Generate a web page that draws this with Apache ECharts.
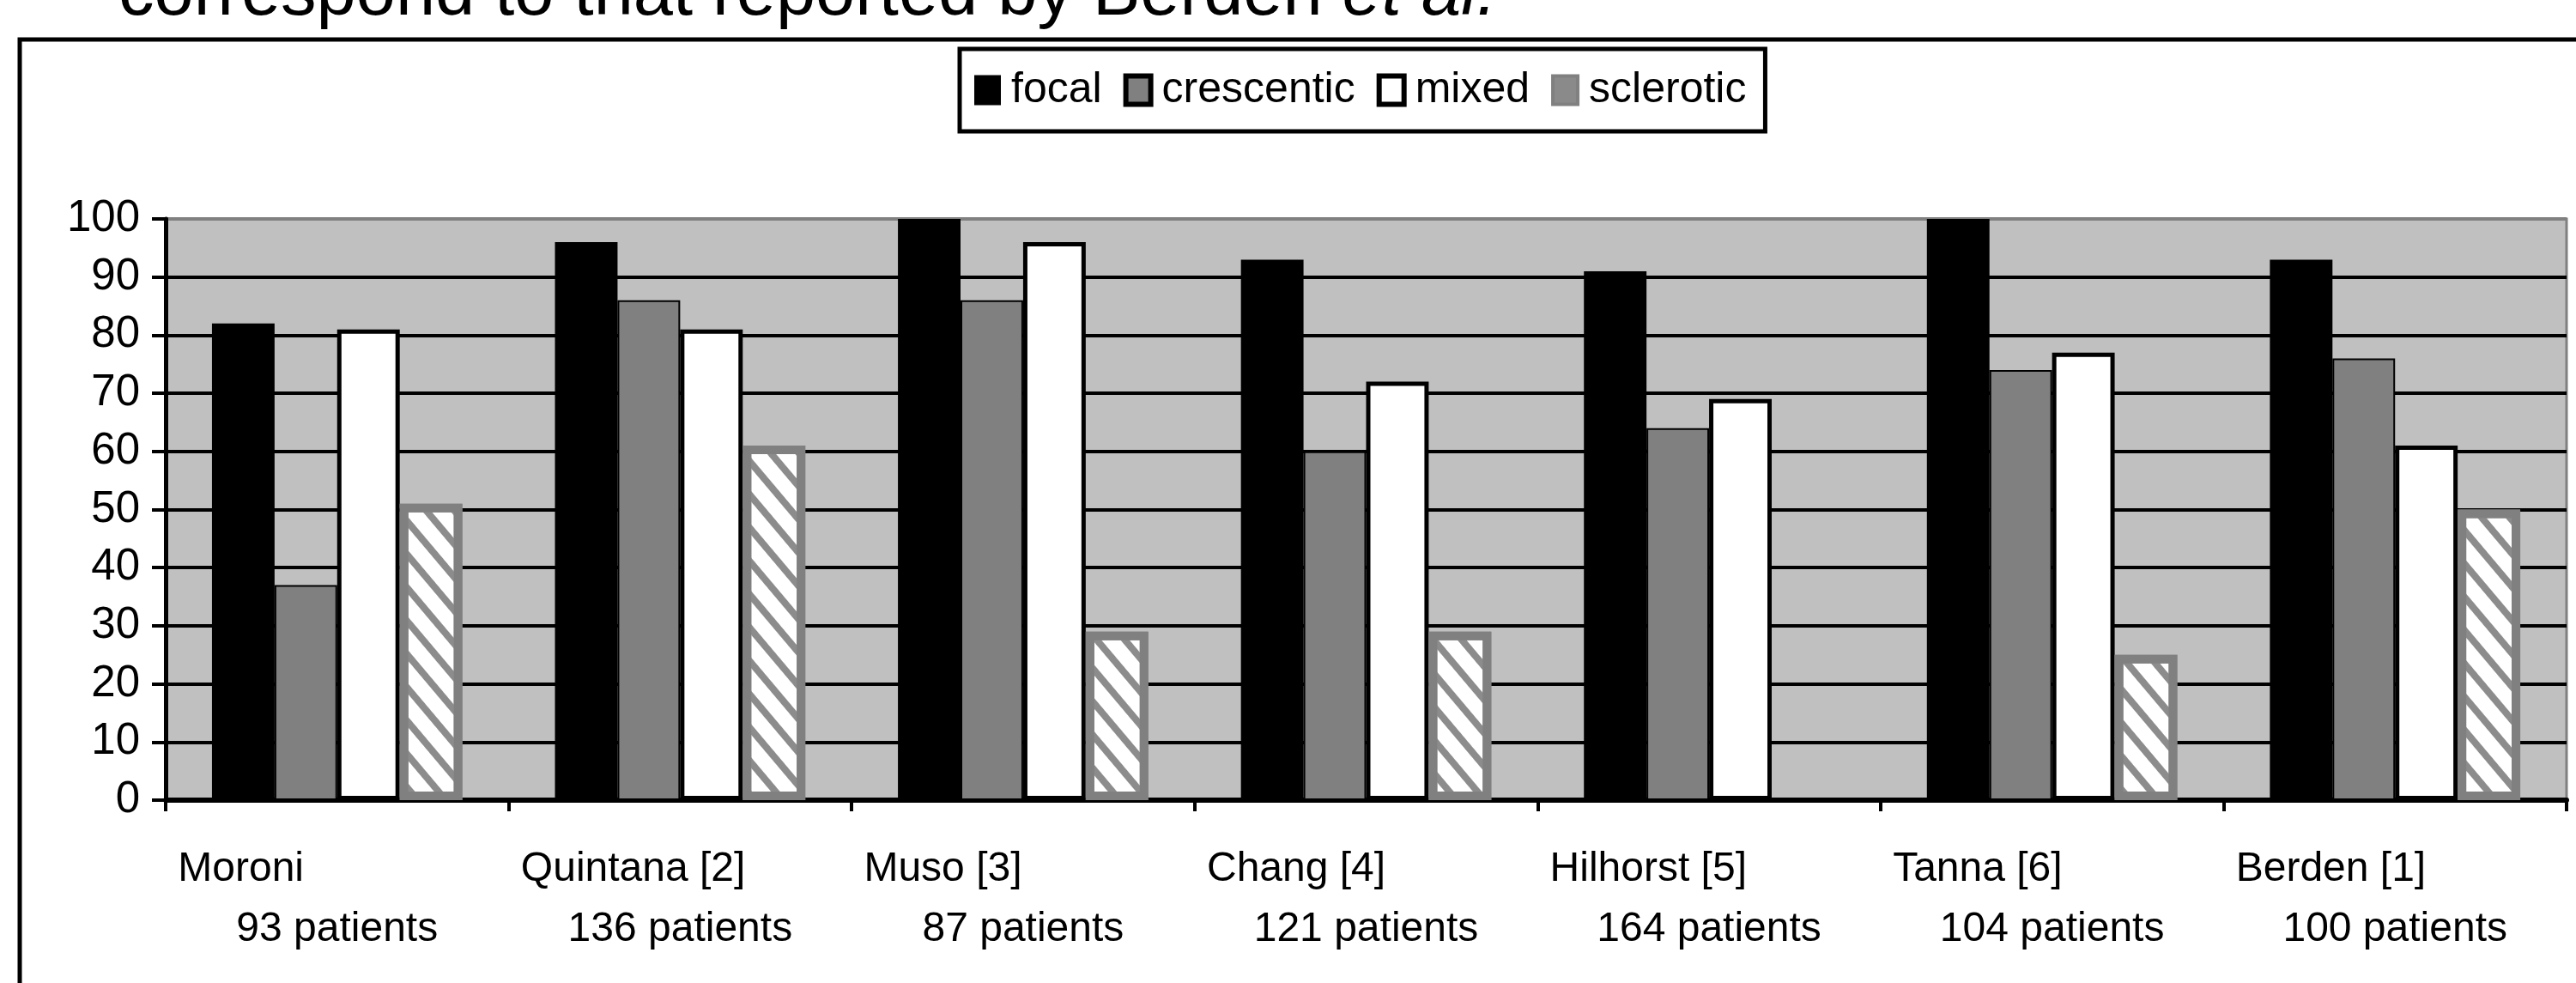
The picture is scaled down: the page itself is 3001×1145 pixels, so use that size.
<!DOCTYPE html>
<html>
<head>
<meta charset="utf-8">
<script src="https://cdn.jsdelivr.net/npm/echarts@6/dist/echarts.min.js"></script>
<style>
  html, body { margin: 0; padding: 0; background: #fff; }
  #chart { width: 3001px; height: 1145px; }
</style>
</head>
<body>
<div id="chart"></div>
<script>
// Studies compared, with cohort sizes
const studies = ['Moroni', 'Quintana [2]', 'Muso [3]', 'Chang [4]', 'Hilhorst [5]', 'Tanna [6]', 'Berden [1]'];
const patientCounts = [93, 136, 87, 121, 164, 104, 100];

// Percentage per histological class
const focal = [82, 96, 100, 93, 91, 100, 93];
const crescentic = [37, 86, 86, 60, 64, 74, 76];
const mixed = [81, 81, 96, 72, 69, 77, 61];
const sclerotic = [51, 61, 29, 29, null, 25, 50];

// Value axis ticks
const yMin = 0;
const yMax = 100;
const yStep = 10;

const FONT = "'Liberation Sans', Arial, sans-serif";

const chart = echarts.init(document.getElementById('chart'), null, { renderer: 'canvas' });

// Horizontal rules: black, except the top one which merges into the plot frame
const gridLineColors = [];
for (let v = yMin; v <= yMax; v += yStep) gridLineColors.push(v === yMax ? '#808080' : '#000');

chart.setOption({
  animation: false,
  backgroundColor: '#fff',
  graphic: [
    {
      type: 'rect',
      silent: true,
      z: -10,
      shape: { x: 23, y: 46, width: 3100, height: 1200 },
      style: { fill: 'none', stroke: '#000', lineWidth: 5 }
    },
    {
      type: 'text',
      silent: true,
      x: 138,
      y: -6,
      style: {
        text: '{a|correspond to that reported by Berden }{b|et al.}',
        verticalAlign: 'middle',
        rich: {
          a: { fontSize: 83, fontFamily: FONT, fill: '#000' },
          b: { fontSize: 83, fontFamily: FONT, fontStyle: 'italic', fill: '#000' }
        }
      }
    }
  ],
  legend: {
    left: 1118,
    top: 57,
    padding: [23, 22, 23, 17],
    borderColor: '#000',
    borderWidth: 5,
    backgroundColor: '#fff',
    itemWidth: 29,
    itemHeight: 33,
    itemGap: 25,
    icon: 'rect',
    textStyle: { fontSize: 50, fontFamily: FONT, color: '#000', padding: [0, 0, 0, 8] },
    data: [
      { name: 'focal', itemStyle: { color: '#000', borderColor: '#000', borderWidth: 2 } },
      { name: 'crescentic', itemStyle: { color: '#808080', borderColor: '#000', borderWidth: 6 } },
      { name: 'mixed', itemStyle: { color: '#fff', borderColor: '#000', borderWidth: 6 } },
      { name: 'sclerotic', itemStyle: { color: '#8a8a8a', borderColor: '#808080', borderWidth: 4, decal: 'none' } }
    ]
  },
  grid: {
    left: 193,
    right: 11,
    top: 255,
    bottom: 213,
    show: true,
    backgroundColor: '#c0c0c0',
    borderColor: '#808080',
    borderWidth: 3
  },
  xAxis: {
    type: 'category',
    data: studies,
    boundaryGap: true,
    axisLine: { show: true, lineStyle: { color: '#000', width: 6 } },
    axisTick: { show: true, interval: 0, length: 13, lineStyle: { color: '#000', width: 4 } },
    splitLine: { show: false },
    axisLabel: {
      interval: 0,
      margin: 46,
      width: 399,
      align: 'center',
      formatter: (value, index) => '{n|' + value + '}\n{p|' + patientCounts[index] + ' patients}',
      rich: {
        n: { fontSize: 48, fontFamily: FONT, color: '#000', align: 'left', padding: [0, 0, 0, 14], lineHeight: 70 },
        p: { fontSize: 48, fontFamily: FONT, color: '#000', align: 'center', lineHeight: 70 }
      }
    }
  },
  yAxis: {
    type: 'value',
    min: yMin,
    max: yMax,
    interval: yStep,
    axisLine: { show: true, lineStyle: { color: '#000', width: 5 } },
    axisTick: { show: true, length: 16, lineStyle: { color: '#000', width: 4 } },
    splitLine: { show: true, lineStyle: { color: gridLineColors, width: 4 } },
    axisLabel: { margin: 30, fontSize: 51, fontFamily: FONT, color: '#000' }
  },
  series: [
    {
      name: 'focal', type: 'bar', data: focal,
      barGap: '0%', barCategoryGap: '27%',
      itemStyle: { color: '#000', borderColor: '#000', borderWidth: 2 }
    },
    {
      name: 'crescentic', type: 'bar', data: crescentic,
      itemStyle: { color: '#808080', borderColor: '#000', borderWidth: 2 }
    },
    {
      name: 'mixed', type: 'bar', data: mixed,
      itemStyle: { color: '#fff', borderColor: '#000', borderWidth: 5 }
    },
    {
      name: 'sclerotic', type: 'bar', data: sclerotic,
      itemStyle: {
        color: '#fff', borderColor: '#808080', borderWidth: 10,
        decal: {
          symbol: 'rect', symbolSize: 1,
          dashArrayX: [1, 0], dashArrayY: [8, 17],
          rotation: 0.87,
          color: '#8c8c8c'
        }
      }
    }
  ]
});
</script>
</body>
</html>
